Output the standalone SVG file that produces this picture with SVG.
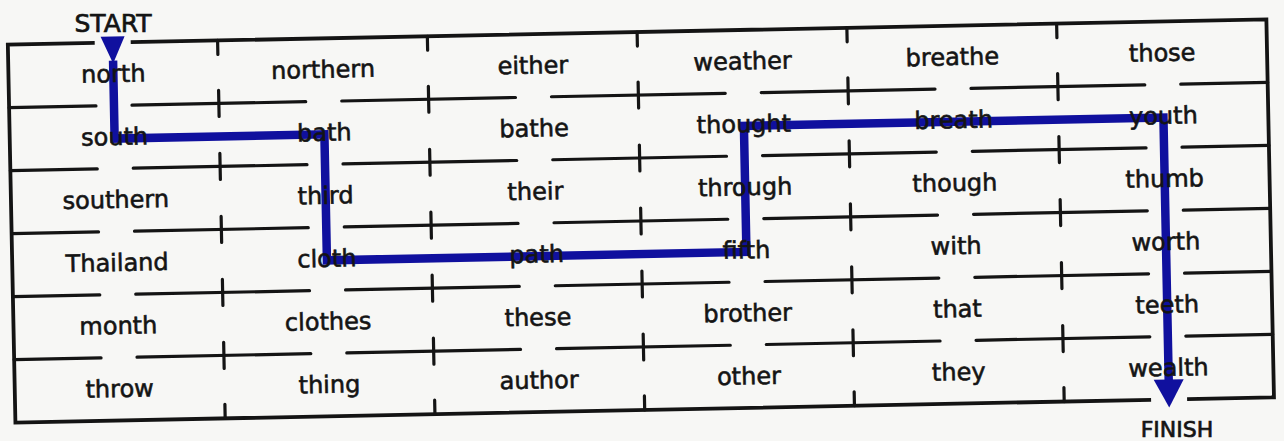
<svg xmlns="http://www.w3.org/2000/svg" width="1284" height="441" viewBox="0 0 1284 441">
<style>
.bg{fill:#f7f7f5}
.grid{fill:none;stroke:#141414;stroke-width:3.2;stroke-linecap:round}
.border{fill:none;stroke:#141414;stroke-width:3.8;stroke-linejoin:miter}
.w{font-family:"DejaVu Sans","Liberation Sans",sans-serif;font-size:24px;fill:#141414;stroke:#141414;stroke-width:0.6;text-anchor:middle}
.lbl{font-family:"DejaVu Sans","Liberation Sans",sans-serif;fill:#141414;stroke:#141414;stroke-width:0.7;text-anchor:middle}
.route{fill:none;stroke:#10109e;stroke-width:8.5;stroke-linejoin:miter;stroke-linecap:butt}
.head{fill:#10109e}
</style>
<rect class="bg" x="0" y="0" width="1284" height="441"/>
<text class="lbl" x="113" y="32" font-size="25">START</text>
<text class="lbl" x="1177" y="437" font-size="22">FINISH</text>
<g transform="rotate(-1.15 641 221)">
  <g id="grid">
    <path class="border" d="M98.4 32 H11.5 V410 H1147.4 M1183.4 410 H1270.3 V32 H134.4"/>
    <path class="grid" d="M11.5 95 H98.4 M134.4 95 H308.2 M344.2 95 H518 M554 95 H727.8 M763.8 95 H937.6 M973.6 95 H1147.4 M1183.4 95 H1270.3
      M11.5 158 H98.4 M134.4 158 H308.2 M344.2 158 H518 M554 158 H727.8 M763.8 158 H937.6 M973.6 158 H1147.4 M1183.4 158 H1270.3
      M11.5 221 H98.4 M134.4 221 H308.2 M344.2 221 H518 M554 221 H727.8 M763.8 221 H937.6 M973.6 221 H1147.4 M1183.4 221 H1270.3
      M11.5 284 H98.4 M134.4 284 H308.2 M344.2 284 H518 M554 284 H727.8 M763.8 284 H937.6 M973.6 284 H1147.4 M1183.4 284 H1270.3
      M11.5 347 H98.4 M134.4 347 H308.2 M344.2 347 H518 M554 347 H727.8 M763.8 347 H937.6 M973.6 347 H1147.4 M1183.4 347 H1270.3"/>
    <path class="grid" d="M221.3 32 V46 M431.1 32 V46 M640.9 32 V46 M850.7 32 V46 M1060.5 32 V46
      M221.3 396 V410 M431.1 396 V410 M640.9 396 V410 M850.7 396 V410 M1060.5 396 V410
      M221.3 82 V108 M431.1 82 V108 M640.9 82 V108 M850.7 82 V108 M1060.5 82 V108
      M221.3 145 V171 M431.1 145 V171 M640.9 145 V171 M850.7 145 V171 M1060.5 145 V171
      M221.3 208 V234 M431.1 208 V234 M640.9 208 V234 M850.7 208 V234 M1060.5 208 V234
      M221.3 271 V297 M431.1 271 V297 M640.9 271 V297 M850.7 271 V297 M1060.5 271 V297
      M221.3 334 V360 M431.1 334 V360 M640.9 334 V360 M850.7 334 V360 M1060.5 334 V360"/>
  </g>
  <g id="connectors">
    <polygon class="head" points="104.4,26 128.4,26 116.4,53"/>
    <path class="route" d="M116.4 50 V128 H326.2 V254 H745.8 V128 H1165.4 V392"/>
    <polygon class="head" points="1150.4,390 1180.4,390 1165.4,418"/>
  </g>
  <g id="cell-north"><text class="w" x="116.4" y="71.5">north</text></g>
  <g id="cell-northern"><text class="w" x="326.2" y="71.5">northern</text></g>
  <g id="cell-either"><text class="w" x="536" y="71.5">either</text></g>
  <g id="cell-weather"><text class="w" x="745.8" y="71.5">weather</text></g>
  <g id="cell-breathe"><text class="w" x="955.6" y="71.5">breathe</text></g>
  <g id="cell-those"><text class="w" x="1165.4" y="71.5">those</text></g>
  <g id="cell-south"><text class="w" x="116.4" y="134.5">south</text></g>
  <g id="cell-bath"><text class="w" x="326.2" y="134.5">bath</text></g>
  <g id="cell-bathe"><text class="w" x="536" y="134.5">bathe</text></g>
  <g id="cell-thought"><text class="w" x="745.8" y="134.5">thought</text></g>
  <g id="cell-breath"><text class="w" x="955.6" y="134.5">breath</text></g>
  <g id="cell-youth"><text class="w" x="1165.4" y="134.5">youth</text></g>
  <g id="cell-southern"><text class="w" x="116.4" y="197.5">southern</text></g>
  <g id="cell-third"><text class="w" x="326.2" y="197.5">third</text></g>
  <g id="cell-their"><text class="w" x="536" y="197.5">their</text></g>
  <g id="cell-through"><text class="w" x="745.8" y="197.5">through</text></g>
  <g id="cell-though"><text class="w" x="955.6" y="197.5">though</text></g>
  <g id="cell-thumb"><text class="w" x="1165.4" y="197.5">thumb</text></g>
  <g id="cell-thailand"><text class="w" x="116.4" y="260.5">Thailand</text></g>
  <g id="cell-cloth"><text class="w" x="326.2" y="260.5">cloth</text></g>
  <g id="cell-path"><text class="w" x="536" y="260.5">path</text></g>
  <g id="cell-fifth"><text class="w" x="745.8" y="260.5">fifth</text></g>
  <g id="cell-with"><text class="w" x="955.6" y="260.5">with</text></g>
  <g id="cell-worth"><text class="w" x="1165.4" y="260.5">worth</text></g>
  <g id="cell-month"><text class="w" x="116.4" y="323.5">month</text></g>
  <g id="cell-clothes"><text class="w" x="326.2" y="323.5">clothes</text></g>
  <g id="cell-these"><text class="w" x="536" y="323.5">these</text></g>
  <g id="cell-brother"><text class="w" x="745.8" y="323.5">brother</text></g>
  <g id="cell-that"><text class="w" x="955.6" y="323.5">that</text></g>
  <g id="cell-teeth"><text class="w" x="1165.4" y="323.5">teeth</text></g>
  <g id="cell-throw"><text class="w" x="116.4" y="386.5">throw</text></g>
  <g id="cell-thing"><text class="w" x="326.2" y="386.5">thing</text></g>
  <g id="cell-author"><text class="w" x="536" y="386.5">author</text></g>
  <g id="cell-other"><text class="w" x="745.8" y="386.5">other</text></g>
  <g id="cell-they"><text class="w" x="955.6" y="386.5">they</text></g>
  <g id="cell-wealth"><text class="w" x="1165.4" y="386.5">wealth</text></g>
</g>
</svg>
